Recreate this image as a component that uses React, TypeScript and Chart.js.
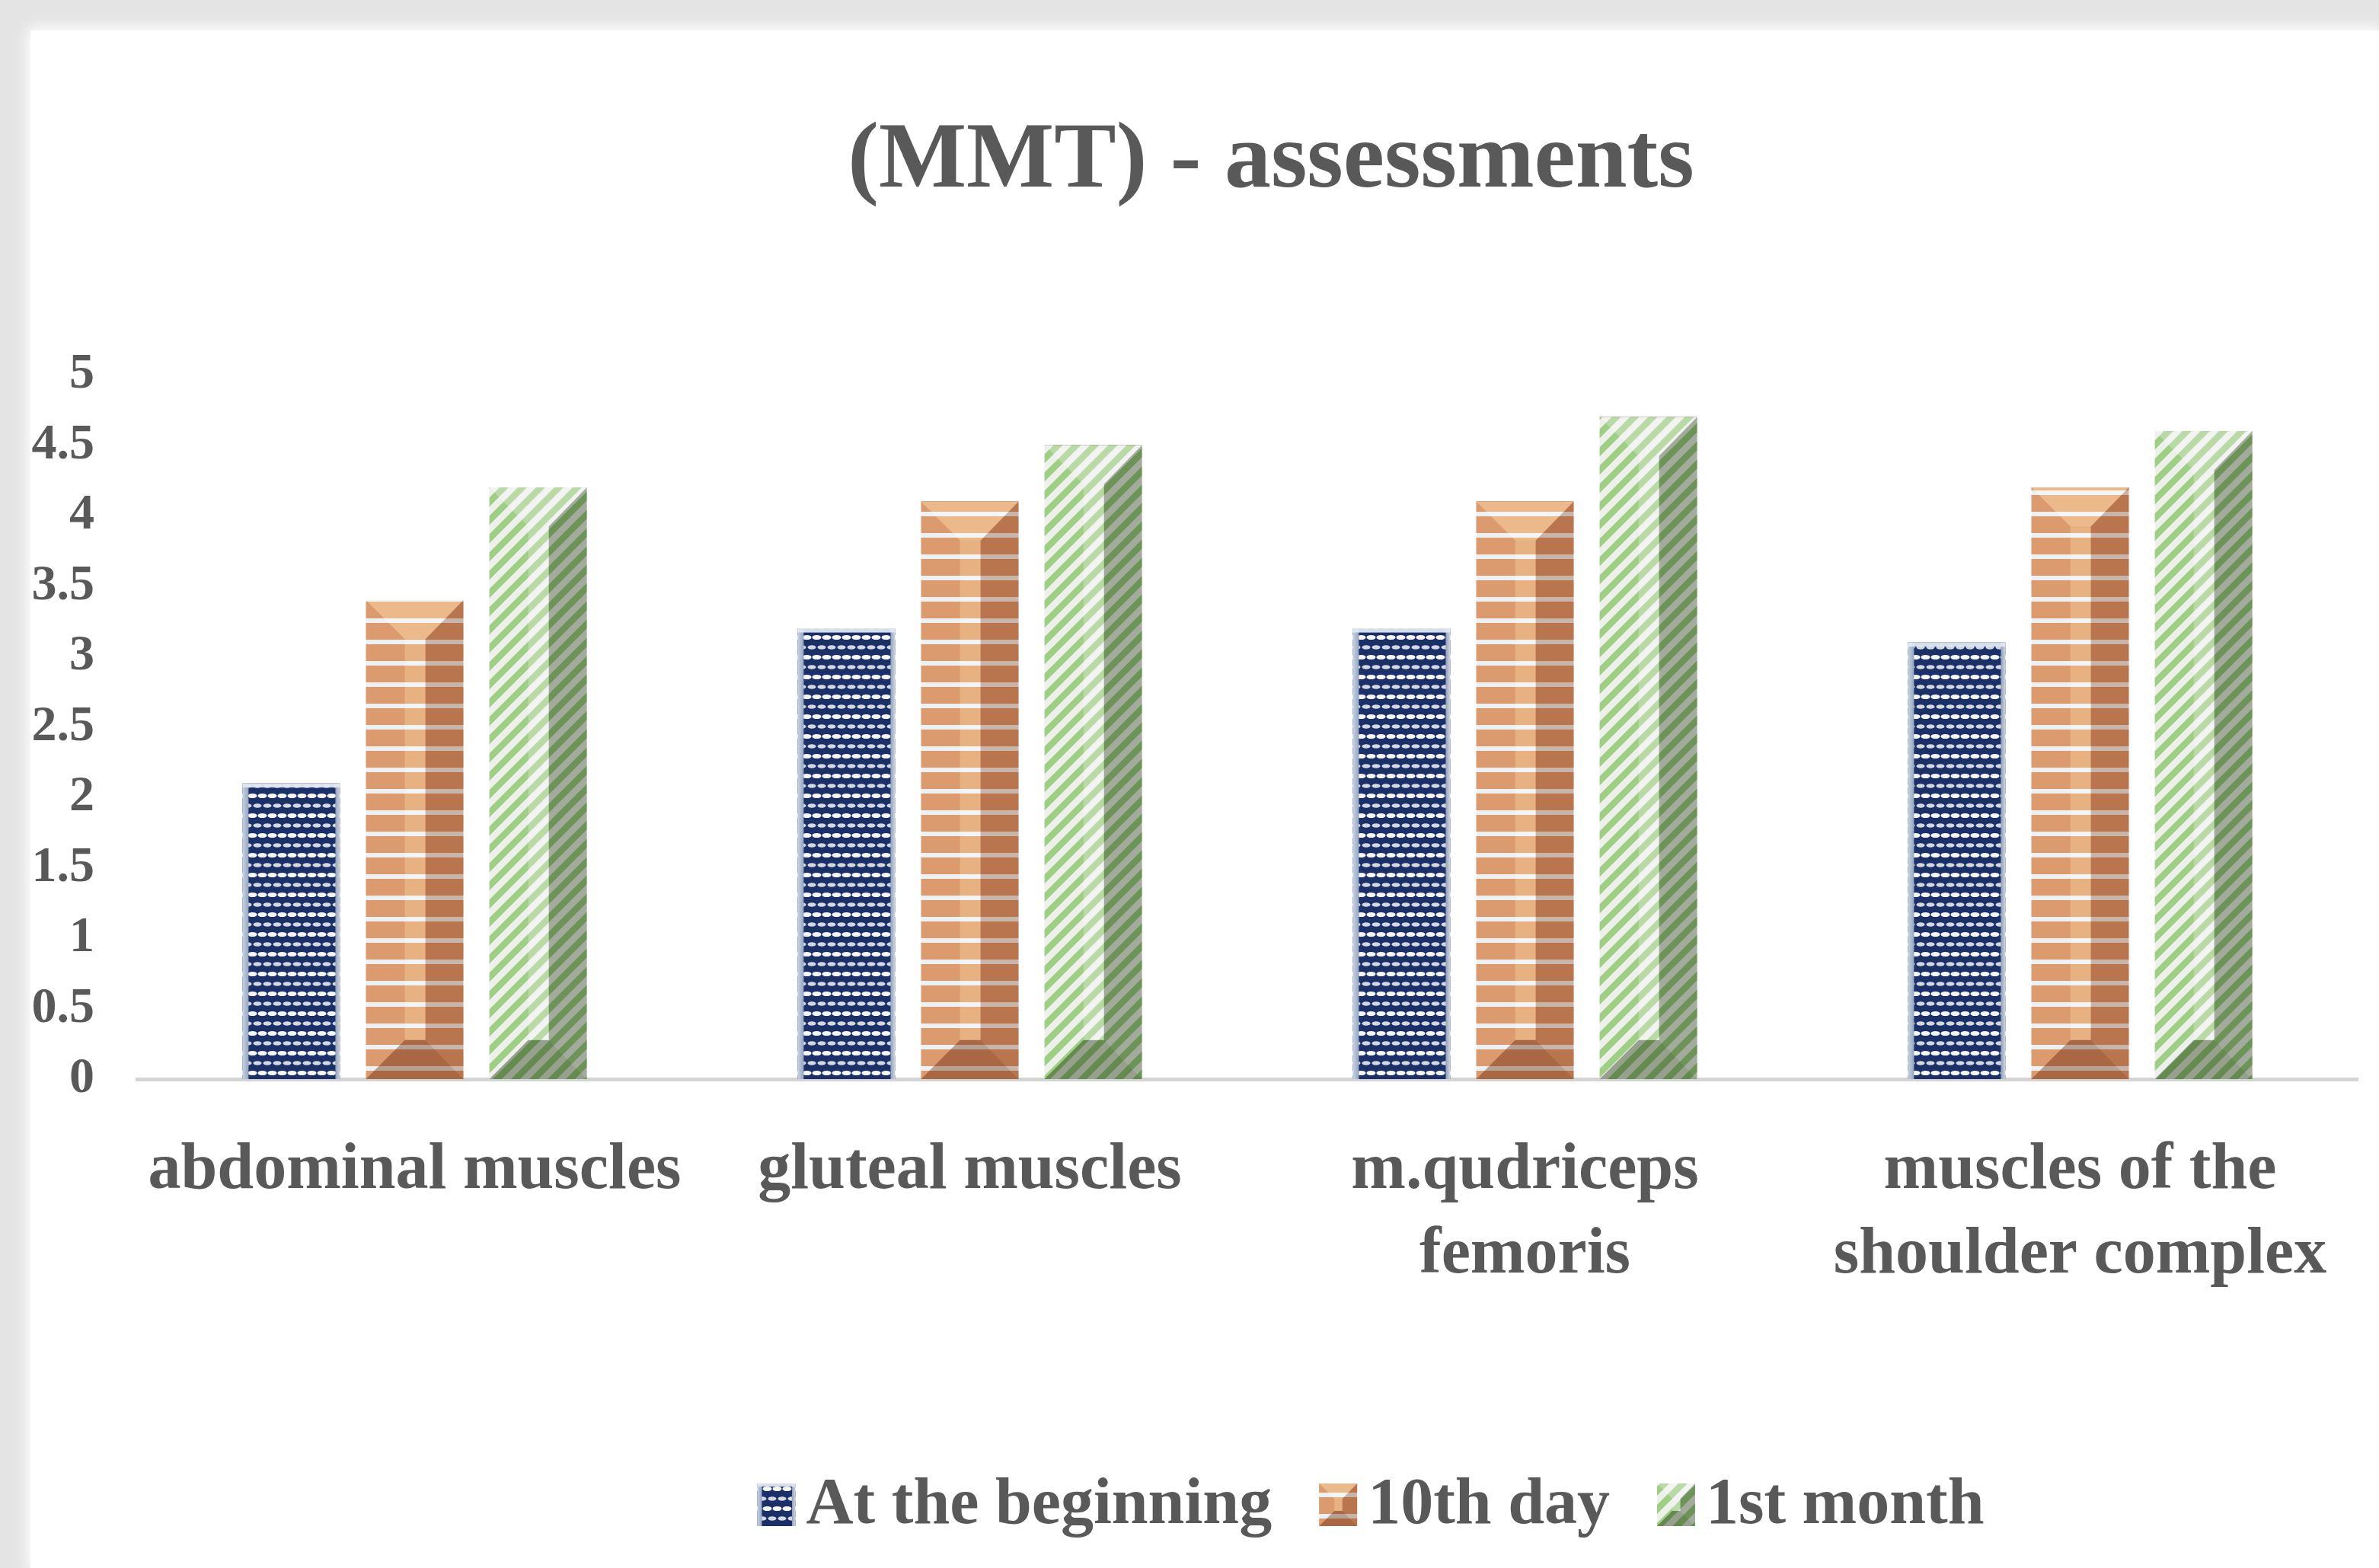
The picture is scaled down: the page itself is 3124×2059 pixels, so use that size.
import React, { useEffect, useRef } from 'react';
import { Chart, registerables } from 'chart.js';

Chart.register(...registerables);

// ---------- data ----------
const CATEGORY_LABELS: string[][] = [
  ['abdominal muscles'],
  ['gluteal muscles'],
  ['m.qudriceps', 'femoris'],
  ['muscles of the', 'shoulder complex'],
];
const SERIES_NAMES = ['At the beginning', '10th day', '1st month'];
const AT_THE_BEGINNING = [2.1, 3.2, 3.2, 3.1];
const TENTH_DAY = [3.4, 4.1, 4.1, 4.2];
const FIRST_MONTH = [4.2, 4.5, 4.7, 4.6];
const Y_TICK_LABELS = ['0', '0.5', '1', '1.5', '2', '2.5', '3', '3.5', '4', '4.5', '5'];
const TITLE_TEXT = '(MMT) - assessments';

// ---------- layout / style ----------
const W = 3124;
const H = 2059;
const FONT = '"Liberation Serif", "Times New Roman", serif';
const TEXT_COLOR = '#595959';
const TITLE_CENTER_X = 1669;
const LEGEND_CENTER_X = 1800;
const LEGEND_CENTER_Y = 1976;
const LEGEND_FONT_SIZE = 86;
const LEGEND_BOX_W = 50;
const LEGEND_BOX_H = 56;
const LEGEND_BOX_GAP = 14;
const LEGEND_ITEM_GAP = 62;

type Tone = { right: string; bottom: string; top: string; center: string };
const ORANGE_TONE: Tone = {
  right: 'rgb(214,192,180)',
  bottom: 'rgb(196,170,155)',
  top: 'rgb(120,80,50)',
  center: 'rgb(80,55,35)',
};
const GREEN_TONE: Tone = {
  right: 'rgb(175,182,170)',
  bottom: 'rgb(160,170,152)',
  top: 'rgb(70,55,70)',
  center: 'rgb(70,55,70)',
};

function makePatterns(ctx: CanvasRenderingContext2D): CanvasPattern[] {
  const mk = (w: number, h: number, draw: (c: CanvasRenderingContext2D) => void) => {
    const t = document.createElement('canvas');
    t.width = w;
    t.height = h;
    const c = t.getContext('2d') as CanvasRenderingContext2D;
    draw(c);
    return ctx.createPattern(t, 'repeat') as CanvasPattern;
  };
  const blue = mk(26, 26, (c) => {
    c.fillStyle = '#1b3066';
    c.fillRect(0, 0, 26, 26);
    c.fillStyle = '#f6f6f6';
    for (const [x, y] of [[6.5, 5], [19.5, 5]]) {
      c.beginPath();
      c.ellipse(x, y, 6, 3.1, 0, 0, Math.PI * 2);
      c.fill();
    }
    c.fillStyle = '#d3d8e2';
    for (const [x, y] of [[0, 18], [13, 18], [26, 18]]) {
      c.beginPath();
      c.ellipse(x, y, 5.5, 2.8, 0, 0, Math.PI * 2);
      c.fill();
    }
  });
  const orange = mk(8, 28, (c) => {
    c.fillStyle = '#dc9b6e';
    c.fillRect(0, 0, 8, 28);
    c.fillStyle = '#eef1f4';
    c.fillRect(0, 0, 8, 6);
  });
  const green = mk(24, 24, (c) => {
    c.fillStyle = '#eef0ec';
    c.fillRect(0, 0, 24, 24);
    c.fillStyle = '#9fcf84';
    for (const o of [-24, 0, 24]) {
      c.beginPath();
      c.moveTo(o, 24);
      c.lineTo(o + 12, 24);
      c.lineTo(o + 36, 0);
      c.lineTo(o + 24, 0);
      c.closePath();
      c.fill();
    }
  });
  return [blue, orange, green];
}

function poly(ctx: CanvasRenderingContext2D, pts: number[][]) {
  ctx.beginPath();
  ctx.moveTo(pts[0][0], pts[0][1]);
  for (let i = 1; i < pts.length; i++) ctx.lineTo(pts[i][0], pts[i][1]);
  ctx.closePath();
  ctx.fill();
}

function drawBevel(ctx: CanvasRenderingContext2D, L: number, R: number, T: number, B: number, tone: Tone) {
  const w = R - L;
  const h = B - T;
  if (w <= 0 || h <= 0) return;
  const d = Math.min(0.4 * w, h / 2);
  const c1 = L + 0.4 * w;
  const c2 = R - 0.39 * w;
  ctx.save();
  ctx.globalCompositeOperation = 'multiply';
  ctx.fillStyle = tone.right;
  poly(ctx, [[R, T], [R, B], [c2, B - d], [c2, T + d]]);
  ctx.fillStyle = tone.bottom;
  poly(ctx, [[L, B], [R, B], [c2, B - d], [c1, B - d]]);
  ctx.globalCompositeOperation = 'screen';
  ctx.fillStyle = tone.top;
  poly(ctx, [[L, T], [R, T], [c2, T + d], [c1, T + d]]);
  ctx.fillStyle = tone.center;
  poly(ctx, [[c1, T + d], [c2, T + d], [c2, B - d], [c1, B - d]]);
  ctx.restore();
}

function drawCylinder(ctx: CanvasRenderingContext2D, L: number, R: number, T: number, B: number, edge: number) {
  const w = R - L;
  const h = B - T;
  if (w <= 0 || h <= 0) return;
  ctx.save();
  const gl = ctx.createLinearGradient(L, 0, L + edge, 0);
  gl.addColorStop(0, '#c9d4e3');
  gl.addColorStop(1, '#94a6c0');
  ctx.fillStyle = gl;
  ctx.fillRect(L, T, edge, h);
  const gr = ctx.createLinearGradient(R - edge * 0.75, 0, R, 0);
  gr.addColorStop(0, '#8f9fb8');
  gr.addColorStop(1, '#cfd7e2');
  ctx.fillStyle = gr;
  ctx.fillRect(R - edge * 0.75, T, edge * 0.75, h);
  ctx.fillStyle = 'rgba(225,232,241,0.95)';
  ctx.fillRect(L, T, w, Math.max(2, edge * 0.7));
  ctx.restore();
}

const barDecorPlugin = {
  id: 'barDecor',
  afterDatasetsDraw(chart: any) {
    const ctx: CanvasRenderingContext2D = chart.ctx;
    chart.data.datasets.forEach((_ds: any, i: number) => {
      const meta = chart.getDatasetMeta(i);
      meta.data.forEach((bar: any) => {
        const p = bar.getProps(['x', 'y', 'base', 'width'], true);
        const L = p.x - p.width / 2;
        const R = p.x + p.width / 2;
        const T = Math.min(p.y, p.base);
        const B = Math.max(p.y, p.base);
        if (i === 0) drawCylinder(ctx, L, R, T, B, 8);
        else drawBevel(ctx, L, R, T, B, i === 1 ? ORANGE_TONE : GREEN_TONE);
      });
    });
  },
};

const titleShiftPlugin = {
  id: 'titleShift',
  afterLayout(chart: any) {
    const tb = chart.titleBlock;
    if (tb) {
      const dx = TITLE_CENTER_X - (tb.left + tb.right) / 2;
      tb.left += dx;
      tb.right += dx;
    }
  },
};

const legendPlugin = {
  id: 'sideLegend',
  afterDraw(chart: any) {
    const ctx: CanvasRenderingContext2D = chart.ctx;
    ctx.save();
    ctx.font = `bold ${LEGEND_FONT_SIZE}px ${FONT}`;
    const items = chart.data.datasets.map((ds: any) => ({
      text: ds.label as string,
      fill: ds.backgroundColor,
      width: ctx.measureText(ds.label).width,
    }));
    const total =
      items.reduce((s: number, it: any) => s + LEGEND_BOX_W + LEGEND_BOX_GAP + it.width, 0) +
      LEGEND_ITEM_GAP * (items.length - 1);
    let x = LEGEND_CENTER_X - total / 2;
    items.forEach((it: any, i: number) => {
      const top = LEGEND_CENTER_Y - LEGEND_BOX_H / 2;
      ctx.fillStyle = it.fill;
      ctx.fillRect(x, top, LEGEND_BOX_W, LEGEND_BOX_H);
      if (i === 0) drawCylinder(ctx, x, x + LEGEND_BOX_W, top, top + LEGEND_BOX_H, 6);
      else drawBevel(ctx, x, x + LEGEND_BOX_W, top, top + LEGEND_BOX_H, i === 1 ? ORANGE_TONE : GREEN_TONE);
      ctx.fillStyle = TEXT_COLOR;
      ctx.textAlign = 'left';
      ctx.textBaseline = 'middle';
      ctx.fillText(it.text, x + LEGEND_BOX_W + LEGEND_BOX_GAP, LEGEND_CENTER_Y + 2);
      x += LEGEND_BOX_W + LEGEND_BOX_GAP + it.width + LEGEND_ITEM_GAP;
    });
    ctx.restore();
  },
};

export default function App() {
  const ref = useRef<HTMLCanvasElement | null>(null);

  useEffect(() => {
    const canvas = ref.current;
    if (!canvas) return;
    const ctx = canvas.getContext('2d') as CanvasRenderingContext2D;
    const patterns = makePatterns(ctx);
    const chart = new Chart(ctx, {
      type: 'bar',
      data: {
        labels: CATEGORY_LABELS as any,
        datasets: [
          { label: SERIES_NAMES[0], data: AT_THE_BEGINNING, backgroundColor: patterns[0] as any, borderWidth: 0 },
          { label: SERIES_NAMES[1], data: TENTH_DAY, backgroundColor: patterns[1] as any, borderWidth: 0 },
          { label: SERIES_NAMES[2], data: FIRST_MONTH, backgroundColor: patterns[2] as any, borderWidth: 0 },
        ],
      },
      options: {
        responsive: false,
        animation: false,
        devicePixelRatio: 1,
        datasets: {
          bar: { categoryPercentage: 0.667, barPercentage: 0.79 },
        },
        layout: { padding: { left: 0, right: 28, top: 140, bottom: 352 } },
        plugins: {
          legend: { display: false },
          tooltip: { enabled: false },
          title: {
            display: true,
            text: TITLE_TEXT,
            color: TEXT_COLOR,
            font: { family: FONT, size: 122, weight: 'bold', lineHeight: 1.2 },
            padding: { top: 0, bottom: 205.6 },
          },
        },
        scales: {
          x: {
            grid: { display: false, drawTicks: false },
            border: { display: true, color: '#d4d4d4', width: 5 },
            ticks: {
              color: TEXT_COLOR,
              font: { family: FONT, size: 86, weight: 'bold', lineHeight: 1.29 },
              padding: 65,
              maxRotation: 0,
              minRotation: 0,
              autoSkip: false,
            },
            afterFit: (scale: any) => {
              scale.height = 290;
            },
          },
          y: {
            min: 0,
            max: 5,
            grid: { display: false, drawTicks: false },
            border: { display: false },
            ticks: {
              stepSize: 0.5,
              color: TEXT_COLOR,
              font: { family: FONT, size: 66, weight: 'bold' },
              padding: 56,
              callback: (_v: any, i: number) => Y_TICK_LABELS[i],
            },
            afterFit: (scale: any) => {
              scale.width = 180;
            },
          },
        },
      } as any,
      plugins: [barDecorPlugin, titleShiftPlugin, legendPlugin],
    });
    return () => chart.destroy();
  }, []);

  return (
    <div style={{ position: 'fixed', left: 0, top: 0, width: W, height: H, background: '#e4e4e4', overflow: 'hidden' }}>
      <div
        style={{
          position: 'absolute',
          left: 40,
          top: 40,
          right: 0,
          bottom: 0,
          background: '#ffffff',
          boxShadow: '0 0 18px 4px #ffffff',
        }}
      />
      <canvas ref={ref} width={W} height={H} style={{ position: 'absolute', left: 0, top: 0, width: W, height: H }} />
    </div>
  );
}
